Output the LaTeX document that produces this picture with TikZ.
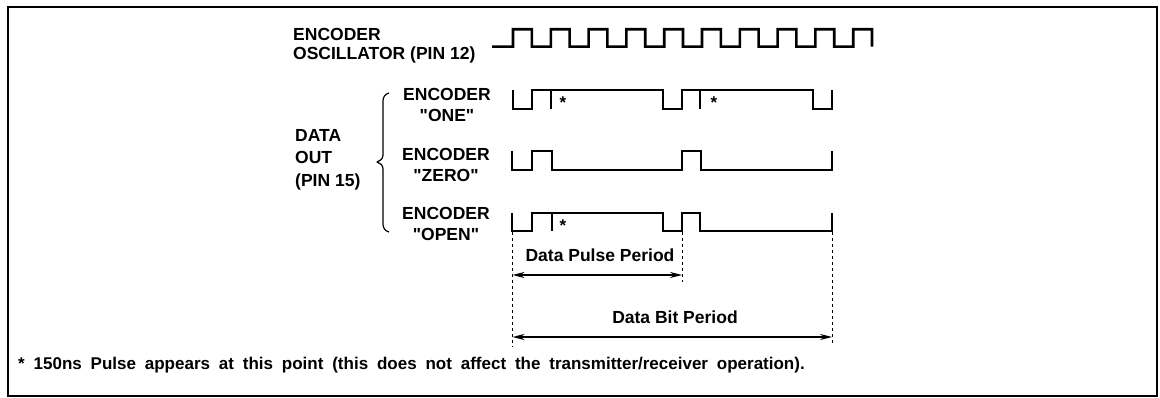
\documentclass[tikz,border=0pt]{standalone}
\usepackage{fontspec}
\setmainfont{Liberation Sans}[Ligatures=TeXOff]
\usetikzlibrary{arrows.meta}
\begin{document}
\begin{tikzpicture}[x=1pt,y=-1pt,
  wave/.style={line width=2.6pt, line join=miter},
  tickmark/.style={line width=2.6pt},
  guide/.style={line width=0.9pt, dash pattern=on 3pt off 3pt},
  dim/.style={line width=1.3pt, {Stealth[length=12pt,width=6pt]}-{Stealth[length=12pt,width=6pt]}},
  lbl/.style={font=\bfseries\fontsize{17.5}{21}\selectfont, inner sep=0pt, align=center},
  lbll/.style={lbl, align=left},
  starmark/.style={font=\bfseries\fontsize{17}{17}\selectfont, inner sep=0pt},
  bracestyle/.style={line width=1.2pt, line join=round}]

\useasboundingbox (0,0) rectangle (1160,398);
\draw[line width=2.5pt] (8,7) rectangle (1157,396);

% Oscillator
\draw[wave] (492,46.7) -- (513,46.7)
  foreach \i in {0,...,8} { -- ({513+37.8*\i},29.3) -- ({531.8+37.8*\i},29.3) -- ({531.8+37.8*\i},46.7) -- ({550.8+37.8*\i},46.7) }
  -- (853.2,29.3) -- (872,29.3) -- (872,46.7);

% ONE
\draw[wave] (513,90) -- (513,109) -- (532,109) -- (532,90) -- (663,90) -- (663,109) -- (682,109) -- (682,90) -- (813,90) -- (813,109) -- (832,109) -- (832,90);
\draw[tickmark] (551,90) -- (551,109);
\draw[tickmark] (700,90) -- (700,109);
\node[starmark] (s1) at (563,103) {*};
\node[starmark] (s2) at (714,103) {*};

% ZERO
\draw[wave] (512,151) -- (512,170) -- (532,170) -- (532,151) -- (552,151) -- (552,170) -- (682,170) -- (682,151) -- (701,151) -- (701,170) -- (832,170) -- (832,151);

% OPEN
\draw[wave] (512,213) -- (512,231) -- (532,231) -- (532,213) -- (663,213) -- (663,231) -- (682,231) -- (682,213) -- (700,213) -- (700,231) -- (832,231) -- (832,213);
\draw[tickmark] (552,213) -- (552,231);
\node[starmark] (s3) at (563,226) {*};

% guides
\coordinate (gLt) at (512.5,232);
\coordinate (gLb) at (512.5,347);
\coordinate (gMt) at (682,232);
\coordinate (gMb) at (682,282);
\coordinate (gRt) at (832,232);
\coordinate (gRb) at (832,345);
\draw[guide] (gLt) -- (gLb);
\draw[guide] (gMt) -- (gMb);
\draw[guide] (gRt) -- (gRb);

\coordinate (pA) at (512.5,275);
\coordinate (pB) at (682,275);
\coordinate (bA) at (512.5,337);
\coordinate (bB) at (832,337);
\draw[dim] (pA) -- (pB);
\draw[dim] (bA) -- (bB);
\node[lbl] (dpp) at (600,255) {Data Pulse Period};
\node[lbl] (dbp) at (675,317) {Data Bit Period};

% labels
\node[lbll, anchor=west] (osc1) at (293,34) {ENCODER};
\node[lbll, anchor=west] (osc2) at (293,55) {OSCILLATOR (PIN 12)};

\node[lbl] (one) at (447,105) {ENCODER\\"ONE"};
\node[lbl] (zero) at (446,165) {ENCODER\\"ZERO"};
\node[lbl] (open) at (446,224) {ENCODER\\"OPEN"};

\node[lbll, anchor=west, font=\bfseries\fontsize{17.5}{22.5}\selectfont] (dout) at (295,159.5) {DATA\\OUT\\(PIN 15)};

\draw[bracestyle] (389,93) .. controls (385,94) and (383,97) .. (383,101) -- (383,155)
  .. controls (383,159) and (380,161) .. (377,162)
  .. controls (380,163) and (383,165) .. (383,169) -- (383,224)
  .. controls (383,228) and (385,231) .. (389,232);

\node[font=\bfseries\fontsize{17}{20}\selectfont, inner sep=0pt, anchor=west] (foot) at (18,365) {\spaceskip=0.52em\relax * 150ns Pulse appears at this point (this does not affect the transmitter/receiver operation).};
\end{tikzpicture}
\end{document}
